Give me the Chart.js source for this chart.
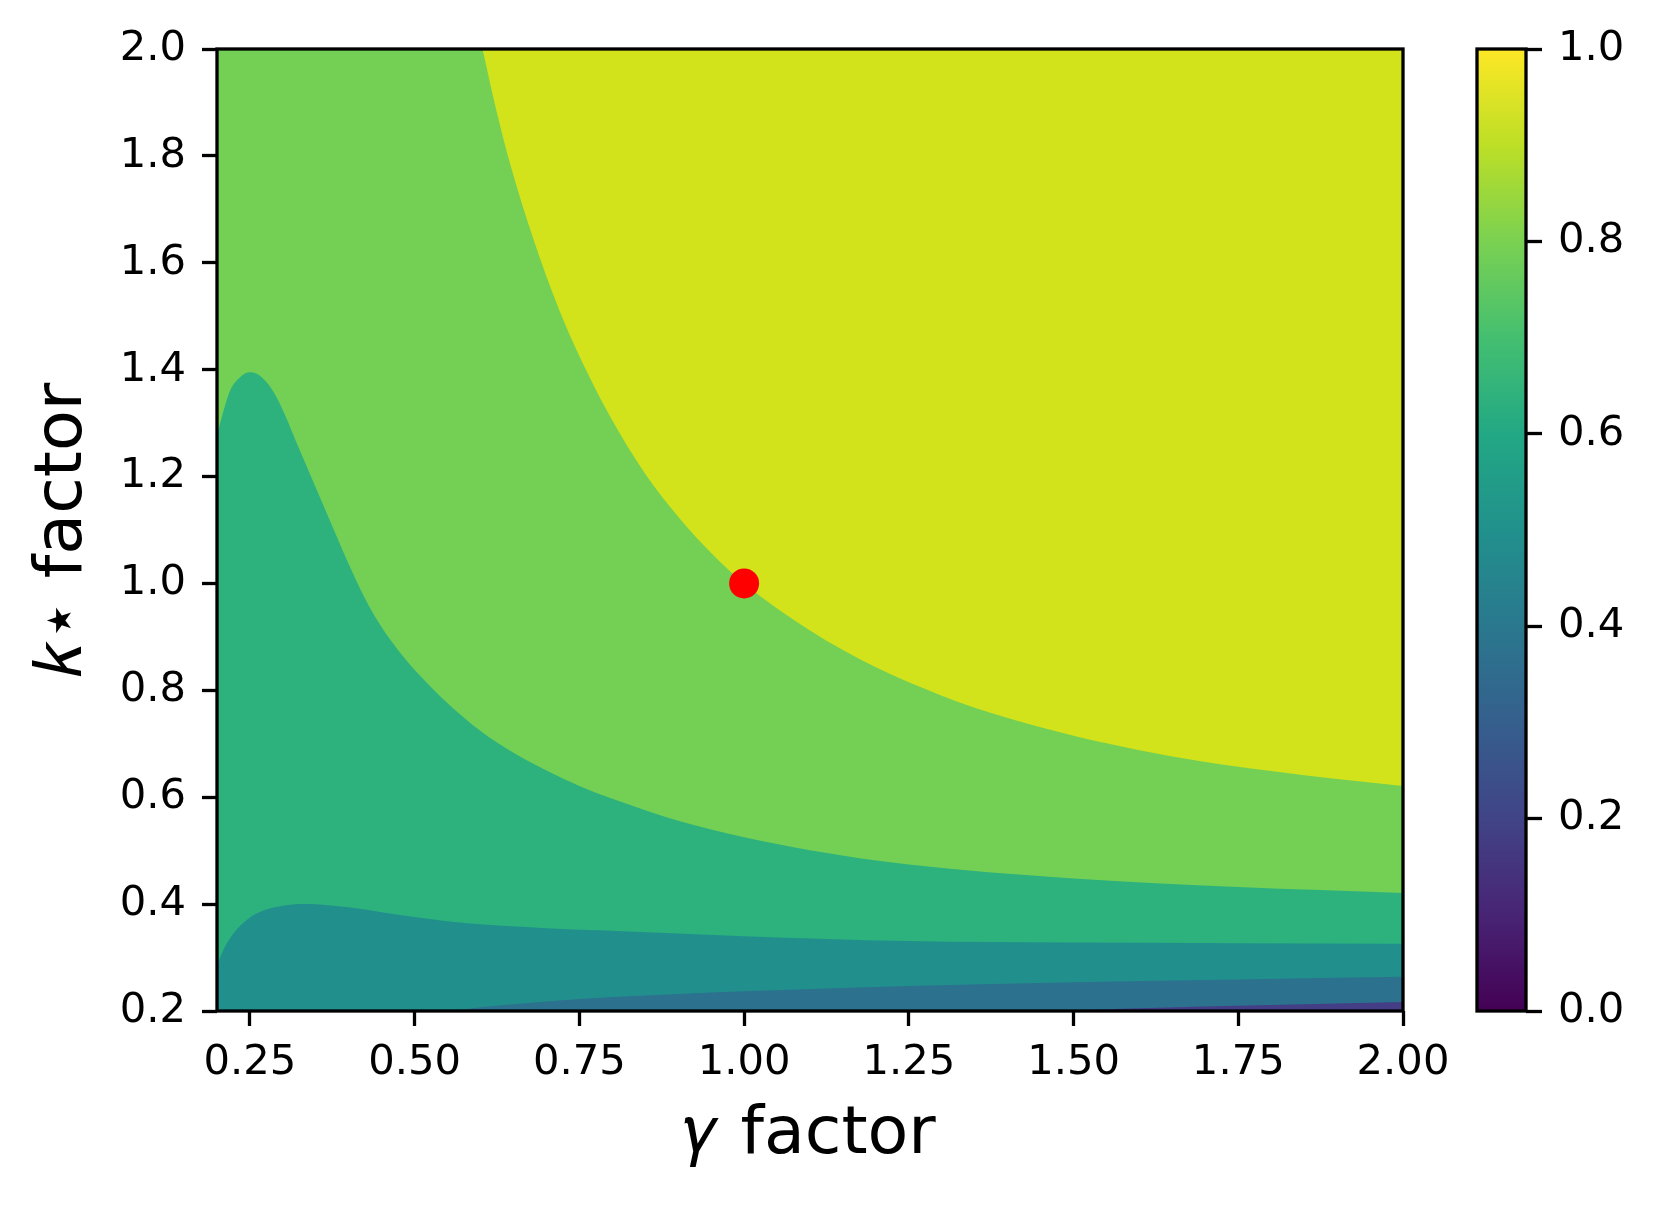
<!DOCTYPE html>
<html>
<head>
<meta charset="utf-8">
<script src="https://cdn.jsdelivr.net/npm/chart.js@4.4.0/dist/chart.umd.min.js"></script>
<style>
  html, body { margin: 0; padding: 0; background: #fff; }
  #wrap { position: relative; width: 1659px; height: 1206px; }
  #main { position: absolute; left: 0; top: 0; }
  #cbar { position: absolute; left: 1400px; top: 0; }
</style>
</head>
<body>
<div id="wrap">
  <canvas id="main" width="1659" height="1206"></canvas>
  <canvas id="cbar" width="259" height="1206"></canvas>
</div>
<script>
// tick labels
const xTicks = [0.25, 0.5, 0.75, 1.0, 1.25, 1.5, 1.75, 2.0];
const yTicks = [0.2, 0.4, 0.6, 0.8, 1.0, 1.2, 1.4, 1.6, 1.8, 2.0];
const cbarTicks = [0.0, 0.2, 0.4, 0.6, 0.8, 1.0];

// contour boundaries (gamma factor -> k factor)
const topGamma = [0.2, 2.0];
const topK = [2.0, 2.0];

const b1Gamma = [0.2, 0.585, 0.603, 0.625, 0.646, 0.68, 0.72, 0.76, 0.80, 0.85, 0.90, 0.95, 1.0, 1.1, 1.2, 1.3, 1.4, 1.5, 1.6, 1.7, 1.8, 1.9, 2.0];
const b1K = [2.1, 2.1, 2.0, 1.88, 1.78, 1.645, 1.51, 1.40, 1.305, 1.205, 1.125, 1.057, 1.0, 0.912, 0.843, 0.79, 0.748, 0.715, 0.688, 0.666, 0.649, 0.634, 0.621];

const b2Gamma = [0.2, 0.207, 0.22, 0.235, 0.25, 0.2625, 0.275, 0.2875, 0.30, 0.325, 0.35, 0.375, 0.40, 0.425, 0.45, 0.475, 0.50, 0.55, 0.60, 0.65, 0.70, 0.75, 0.80, 0.90, 1.0, 1.1, 1.25, 1.5, 1.75, 2.0];
const b2K = [1.277, 1.31, 1.361, 1.386, 1.395, 1.391, 1.377, 1.355, 1.324, 1.251, 1.179, 1.107, 1.036, 0.971, 0.918, 0.875, 0.838, 0.776, 0.724, 0.683, 0.65, 0.621, 0.597, 0.556, 0.525, 0.501, 0.474, 0.448, 0.432, 0.421];

const b3Gamma = [0.2, 0.21, 0.225, 0.25, 0.275, 0.30, 0.33, 0.36, 0.40, 0.45, 0.50, 0.58, 0.70, 0.78, 1.0, 1.25, 1.5, 1.75, 2.0];
const b3K = [0.285, 0.315, 0.345, 0.375, 0.39, 0.397, 0.40, 0.399, 0.394, 0.385, 0.376, 0.364, 0.355, 0.351, 0.34, 0.331, 0.328, 0.327, 0.326];

const b4Gamma = [0.2, 0.549, 0.6, 0.7, 0.8, 1.0, 1.25, 1.5, 1.75, 2.0];
const b4K = [0.2, 0.2, 0.207, 0.218, 0.226, 0.237, 0.247, 0.254, 0.259, 0.264];

const b5Gamma = [0.2, 1.45, 1.6, 1.8, 2.0];
const b5K = [0.2, 0.2, 0.205, 0.211, 0.217];

// band colours (below each boundary)
const bandColors = ['#d2e21b', '#73d055', '#2db27d', '#21908d', '#2c718e', '#433e85'];

// reference point
const refGamma = [1.0];
const refK = [1.0];

// colormap used by the colour bar
const viridis = ['#440154', '#482475', '#414487', '#355f8d', '#2a788e', '#21918c',
                 '#22a884', '#44bf70', '#7ad151', '#bddf26', '#fde725'];

Chart.defaults.font.family = "'DejaVu Sans', sans-serif";
Chart.defaults.color = '#000';

const tickFont = { size: 41.7 };
const titleFont = { size: 66.7 };

function toPoints(xs, ys) {
    return xs.map((x, i) => ({ x: x, y: ys[i] }));
}

function band(xs, ys, color) {
    return {
        data: toPoints(xs, ys),
        fill: 'start',
        backgroundColor: color,
        borderColor: 'transparent',
        borderWidth: 0,
        pointRadius: 0,
        cubicInterpolationMode: 'monotone'
    };
}

const frame = {
    id: 'frame',
    afterDatasetsDraw(chart) {
        const { ctx, chartArea: a } = chart;
        ctx.save();
        ctx.strokeStyle = '#000';
        ctx.lineWidth = 3.3;
        ctx.strokeRect(a.left, a.top, a.right - a.left, a.bottom - a.top);
        ctx.restore();
    }
};

const tickGrid = {
    drawOnChartArea: false,
    drawTicks: true,
    tickLength: 15,
    tickWidth: 3.3,
    tickColor: '#000'
};

new Chart(document.getElementById('main'), {
    type: 'line',
    data: {
        datasets: [
            {
                data: toPoints(refGamma, refK),
                showLine: false,
                pointRadius: 15,
                pointBorderWidth: 0,
                pointBackgroundColor: '#ff0000'
            },
            band(b5Gamma, b5K, bandColors[5]),
            band(b4Gamma, b4K, bandColors[4]),
            band(b3Gamma, b3K, bandColors[3]),
            band(b2Gamma, b2K, bandColors[2]),
            band(b1Gamma, b1K, bandColors[1]),
            band(topGamma, topK, bandColors[0])
        ]
    },
    options: {
        responsive: false,
        animation: false,
        events: [],
        layout: { padding: { top: 49, right: 256, bottom: 0, left: 0 } },
        plugins: {
            legend: { display: false },
            tooltip: { enabled: false }
        },
        scales: {
            x: {
                type: 'linear',
                min: 0.2,
                max: 2.0,
                afterBuildTicks: s => { s.ticks = xTicks.map(v => ({ value: v })); },
                afterFit: s => { s.height = 195; },
                grid: tickGrid,
                border: { display: false },
                ticks: {
                    font: tickFont,
                    padding: 12,
                    autoSkip: false,
                    maxRotation: 0,
                    callback: v => v.toFixed(2)
                },
                title: {
                    display: true,
                    text: '𝛾 factor',
                    font: titleFont,
                    padding: { top: 0, bottom: 30 }
                }
            },
            y: {
                min: 0.2,
                max: 2.0,
                afterBuildTicks: s => { s.ticks = yTicks.map(v => ({ value: v })); },
                afterFit: s => { s.width = 217; },
                grid: tickGrid,
                border: { display: false },
                ticks: {
                    font: tickFont,
                    padding: 16,
                    callback: v => v.toFixed(1)
                },
                title: {
                    display: true,
                    text: '𝑘⋆ factor',
                    font: titleFont,
                    padding: { top: 24, bottom: 0 }
                }
            }
        }
    },
    plugins: [frame]
});

new Chart(document.getElementById('cbar'), {
    type: 'bar',
    data: {
        labels: [''],
        datasets: [{
            data: [[0, 1]],
            barPercentage: 1,
            categoryPercentage: 1,
            borderWidth: 0,
            backgroundColor: context => {
                const chart = context.chart;
                const a = chart.chartArea;
                if (!a) return viridis[5];
                const g = chart.ctx.createLinearGradient(0, a.bottom, 0, a.top);
                viridis.forEach((c, i) => g.addColorStop(i / (viridis.length - 1), c));
                return g;
            }
        }]
    },
    options: {
        responsive: false,
        animation: false,
        events: [],
        layout: { padding: { top: 49, right: 0, bottom: 195, left: 77 } },
        plugins: {
            legend: { display: false },
            tooltip: { enabled: false }
        },
        scales: {
            x: { display: false },
            y: {
                position: 'right',
                min: 0,
                max: 1,
                afterBuildTicks: s => { s.ticks = cbarTicks.map(v => ({ value: v })); },
                afterFit: s => { s.width = 133; },
                grid: Object.assign({}, tickGrid, { tickLength: 16 }),
                border: { display: false },
                ticks: {
                    font: tickFont,
                    padding: 16,
                    callback: v => v.toFixed(1)
                }
            }
        }
    },
    plugins: [frame]
});
</script>
</body>
</html>
